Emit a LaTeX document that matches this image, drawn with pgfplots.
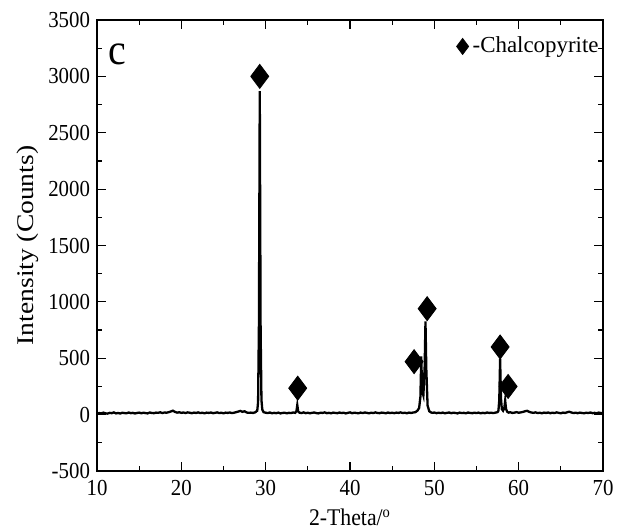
\documentclass[border=0pt]{standalone}
\usepackage{pgfplots}
\pgfplotsset{compat=1.18}
\usepackage{pgfplotstable}
\usepackage{fontspec}
\setmainfont{Liberation Serif}
\newfontfamily\narrowserif[FakeStretch=0.91]{Liberation Serif}
\newfontfamily\wideserif[FakeStretch=1.15]{Liberation Serif}

% XRD pattern, 2-theta vs counts
\pgfplotstableread{
x y
10.00 8
10.25 14
10.50 11
10.75 18
11.00 12
11.25 9
11.50 16
11.75 13
12.00 20
12.25 11
12.50 15
12.75 10
13.00 17
13.25 14
13.50 12
13.75 19
14.00 13
14.25 16
14.50 10
14.75 15
15.00 18
15.25 12
15.50 17
15.75 14
16.00 11
16.25 19
16.50 15
16.75 13
17.00 18
17.25 16
17.50 21
17.75 14
18.00 19
18.25 17
18.50 22
18.75 28
19.00 35
19.25 24
19.50 18
19.75 21
20.00 16
20.25 19
20.50 14
20.75 20
21.00 17
21.25 13
21.50 18
21.75 15
22.00 20
22.25 14
22.50 17
22.75 12
23.00 18
23.25 15
23.50 19
23.75 13
24.00 16
24.25 20
24.50 14
24.75 17
25.00 12
25.25 18
25.50 15
25.75 19
26.00 14
26.25 17
26.50 22
26.75 27
27.00 33
27.25 25
27.50 30
27.75 19
28.00 16
28.25 18
28.50 15
28.75 20
29.00 35
29.10 110
29.20 800
29.30 2870
29.40 760
29.50 130
29.60 45
29.75 22
30.00 17
30.25 14
30.50 19
30.75 12
31.00 16
31.25 13
31.50 18
31.75 11
32.00 15
32.25 17
32.50 12
32.75 16
33.00 14
33.25 19
33.50 16
33.65 30
33.75 85
33.85 30
34.00 18
34.25 14
34.50 20
34.75 13
35.00 17
35.25 12
35.50 16
35.75 19
36.00 14
36.25 11
36.50 17
36.75 15
37.00 20
37.25 13
37.50 16
37.75 12
38.00 18
38.25 15
38.50 13
38.75 19
39.00 14
39.25 17
39.50 11
39.75 16
40.00 20
40.25 13
40.50 17
40.75 15
41.00 12
41.25 18
41.50 14
41.75 19
42.00 16
42.25 12
42.50 17
42.75 14
43.00 20
43.25 15
43.50 13
43.75 18
44.00 16
44.25 12
44.50 19
44.75 14
45.00 17
45.25 13
45.50 18
45.75 15
46.00 20
46.25 14
46.50 17
46.75 12
47.00 18
47.25 15
47.50 19
47.75 22
48.00 35
48.20 60
48.35 160
48.45 516
48.55 210
48.70 170
48.85 420
48.95 826
49.05 400
49.20 80
49.40 30
49.60 20
49.75 16
50.00 19
50.25 13
50.50 17
50.75 14
51.00 18
51.25 12
51.50 16
51.75 19
52.00 13
52.25 17
52.50 15
52.75 11
53.00 18
53.25 14
53.50 16
53.75 12
54.00 19
54.25 15
54.50 13
54.75 17
55.00 14
55.25 18
55.50 12
55.75 16
56.00 13
56.25 19
56.50 15
56.75 17
57.00 14
57.25 18
57.50 22
57.60 35
57.70 130
57.80 496
57.90 150
58.00 50
58.15 35
58.30 60
58.40 127
58.50 50
58.65 25
58.80 18
59.00 21
59.25 15
59.50 18
59.75 22
60.00 17
60.25 20
60.50 24
60.75 30
61.00 34
61.25 25
61.50 19
61.75 16
62.00 20
62.25 14
62.50 17
62.75 12
63.00 18
63.25 15
63.50 19
63.75 13
64.00 17
64.25 14
64.50 20
64.75 16
65.00 12
65.25 18
65.50 15
65.75 21
66.00 26
66.25 19
66.50 14
66.75 17
67.00 13
67.25 18
67.50 15
67.75 12
68.00 17
68.25 14
68.50 19
68.75 13
69.00 16
69.25 12
69.50 18
69.75 14
70.00 15
}\xrd

\pgfplotstableread{
x y
29.30 3000
33.80 235
47.60 470
49.15 940
57.80 600
58.75 250
}\marks

\begin{document}
\begin{tikzpicture}
\begin{axis}[
    scale only axis,
    width=253bp, height=225.5bp,
    xmin=10, xmax=70, ymin=-500, ymax=3500,
    xtick={10,20,...,70},
    ytick={-500,0,...,3500},
    minor x tick num=1,
    minor y tick num=1,
    tick align=inside,
    major tick length=4.5bp,
    minor tick length=2.5bp,
    tick style={black, line width=0.6bp},
    axis line style={line width=0.8bp},
    scaled y ticks=false,
    /pgf/number format/assume math mode=true,
    /pgf/number format/set thousands separator={},
    tick label style={font=\narrowserif\fontsize{11.5}{13}\selectfont},
    xticklabel style={yshift=-1bp},
    xlabel={2-Theta/\textsuperscript{o}},
    ylabel={Intensity (Counts)},
    xlabel style={font=\narrowserif\fontsize{12}{14}\selectfont, yshift=0bp},
    ylabel style={font=\wideserif\fontsize{12}{14}\selectfont, yshift=-2bp},
    legend style={draw=none, fill=none, at={(1.0,0.972)}, anchor=north east,
        font=\fontsize{11.5}{13}\selectfont, inner sep=0pt},
    legend cell align=left,
]
\addplot[black, line width=1.15bp, forget plot] table[x=x, y=y] {\xrd};
\addplot[only marks, mark=diamond*, mark size=6bp, black,
    legend image code/.code={\draw[black, fill=black] plot[mark=diamond*, mark size=4bp, only marks] coordinates {(0.6cm,0cm)};}]
    table[x=x, y=y] {\marks};
\addlegendentry{-Chalcopyrite}
\node[anchor=north west, font=\narrowserif\fontsize{22}{24}\selectfont, inner sep=0pt] at (rel axis cs:0.022,0.949) {c};
\end{axis}
\pgfresetboundingbox
\path[use as bounding box] ([shift={(-48.5bp,-29bp)}]current axis.south west) rectangle ([shift={(7bp,10bp)}]current axis.north east);
\end{tikzpicture}
\end{document}
